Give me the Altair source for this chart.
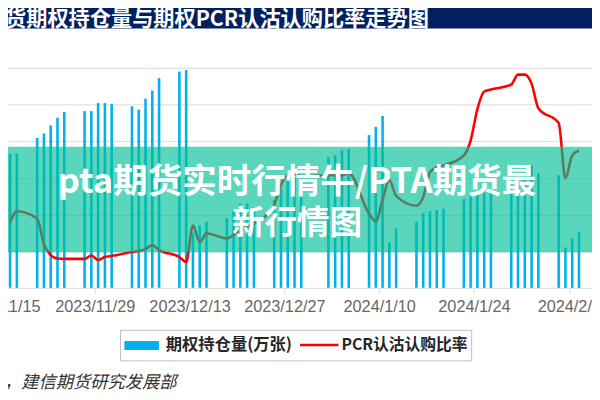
import altair as alt
import pandas as pd

# ---- data ----
dates = [
    "2023-11-16", "2023-11-17", "2023-11-20", "2023-11-21", "2023-11-22", "2023-11-23", "2023-11-24",
    "2023-11-27", "2023-11-28", "2023-11-29", "2023-11-30", "2023-12-01",
    "2023-12-04", "2023-12-05", "2023-12-06", "2023-12-07", "2023-12-08",
    "2023-12-11", "2023-12-12", "2023-12-13", "2023-12-14", "2023-12-15",
    "2023-12-18", "2023-12-19", "2023-12-20", "2023-12-21", "2023-12-22",
    "2023-12-25", "2023-12-26", "2023-12-27", "2023-12-28", "2023-12-29",
    "2024-01-02", "2024-01-03", "2024-01-04", "2024-01-05",
    "2024-01-08", "2024-01-09", "2024-01-10", "2024-01-11", "2024-01-12",
    "2024-01-15", "2024-01-16", "2024-01-17", "2024-01-18", "2024-01-19",
    "2024-01-22", "2024-01-23", "2024-01-24", "2024-01-25", "2024-01-26",
    "2024-01-29", "2024-01-30", "2024-01-31", "2024-02-01", "2024-02-02",
    "2024-02-05", "2024-02-06", "2024-02-07", "2024-02-08",
]
open_interest = [
    36.6, 36.6, 40.9, 42.1, 44.3, 46.4, 48.0,
    48.2, 48.2, 50.4, 50.4, 50.2,
    49.5, 48.6, 51.6, 53.8, 57.2,
    59.0, 59.4, 15.0, 17.0, 18.0,
    19.0, 21.0, 23.0, 23.0, 22.0,
    24.0, 27.0, 29.0, 30.0, 29.0,
    35.6, 36.1, 37.5, 37.9,
    41.7, 43.9, 46.9, 12.4, 16.2,
    18.0, 20.4, 20.9, 21.3, 21.6,
    24.2, 24.9, 25.8, 26.0, 26.0,
    27.0, 28.0, 30.0, 33.4, 31.2,
    30.7, 11.0, 13.5, 15.2,
]
pcr = [
    0.356, 0.418, 0.378, 0.238, 0.179, 0.160, 0.158,
    0.158, 0.176, 0.152, 0.168, 0.174,
    0.195, 0.201, 0.211, 0.233, 0.206,
    0.168, 0.141, 0.340, 0.249, 0.297,
    0.270, 0.287, 0.313, 0.335, 0.351,
    0.453, 0.561, 0.614, 0.620, 0.609,
    0.614, 0.614, 0.614, 0.625,
    0.405, 0.362, 0.480, 0.588, 0.502,
    0.448, 0.496, 0.631, 0.658, 0.668,
    0.722, 0.803, 0.975, 1.071, 1.082,
    1.109, 1.163, 1.163, 1.114, 0.980,
    0.899, 0.598, 0.722, 0.749,
]
tick_dates = [(2023, 11, 15), (2023, 11, 29), (2023, 12, 13), (2023, 12, 27),
              (2024, 1, 10), (2024, 1, 24), (2024, 2, 7)]
oi_grid = [10, 20, 30, 40, 50, 60]

title_text = "货期权持仓量与期权PCR认沽认购比率走势图"
banner_line1 = "pta期货实时行情牛/PTA期货最"
banner_line2 = "新行情图"
legend_bar = "期权持仓量(万张)"
legend_line = "PCR认沽认购比率"
source_text = "，建信期货研究发展部"

df = pd.DataFrame({
    "date": [d + "T12:00:00" for d in dates],
    "oi": open_interest,
    "pcr": pcr,
})

CJK = "Noto Sans CJK SC"

x_enc = alt.X(
    "date:T",
    scale=alt.Scale(
        domain=[alt.DateTime(year=2023, month=11, date=15), alt.DateTime(year=2024, month=2, date=10)],
        range=[-13.2, 594.1],
    ),
    axis=alt.Axis(
        values=[alt.DateTime(year=y, month=m, date=d) for (y, m, d) in tick_dates],
        format="%Y/%-m/%-d", formatType="time", title=None, grid=False,
        labelFont="Liberation Sans", labelFontSize=16.5, labelColor="#666666",
        labelPadding=6, tickSize=5, tickColor="#d9d9d9", domainColor="#d9d9d9",
        labelFlush=False, labelOverlap=False, labelBound=False,
    ),
)

base = alt.Chart(df)

bars = base.mark_bar(size=2.6, color="#00B0F0").encode(
    x=x_enc,
    y=alt.Y("oi:Q", scale=alt.Scale(domain=[0, 60], nice=False),
            axis=alt.Axis(values=oi_grid, grid=True, gridColor="#d9d9d9", gridWidth=1,
                          labels=False, ticks=False, domain=False, title=None)),
)

line = base.mark_line(color="#FF0000", strokeWidth=2.6, interpolate="monotone").encode(
    x=x_enc,
    y=alt.Y("pcr:Q", scale=alt.Scale(domain=[0, 1.2], nice=False), axis=None),
)

one = pd.DataFrame({"k": [0]})


def deco():
    return alt.Chart(one)


overlay = deco().mark_rect(color="#00C096", opacity=0.65).encode(
    x=alt.value(-10), x2=alt.value(600), y=alt.value(80), y2=alt.value(187)
)
banner1 = deco().mark_text(text=banner_line1, font=CJK, fontSize=35, fontWeight="bold",
                           color="white", align="center", baseline="middle").encode(
    x=alt.value(293), y=alt.value(116)
)
banner2 = deco().mark_text(text=banner_line2, font=CJK, fontSize=33, fontWeight="bold",
                           color="white", align="center", baseline="middle").encode(
    x=alt.value(293), y=alt.value(158)
)

title_bar = deco().mark_rect(color="#002060").encode(
    x=alt.value(-10), x2=alt.value(600), y=alt.value(-70), y2=alt.value(-40)
)
title = deco().mark_text(text=title_text, font=CJK, fontSize=21.5, fontWeight="bold",
                         color="white", align="left", baseline="middle").encode(
    x=alt.value(-3), y=alt.value(-48)
)

legend_box = deco().mark_rect(fill="white", stroke="#bfbfbf", strokeWidth=1).encode(
    x=alt.value(114), x2=alt.value(470), y=alt.value(266), y2=alt.value(297)
)
legend_swatch = deco().mark_rect(color="#00B0F0").encode(
    x=alt.value(118), x2=alt.value(153), y=alt.value(277), y2=alt.value(286)
)
legend_t1 = deco().mark_text(text=legend_bar, font=CJK, fontSize=16.5, fontWeight="bold",
                             color="#262626", align="left", baseline="middle").encode(
    x=alt.value(160), y=alt.value(281)
)
legend_rule = deco().mark_rule(color="#FF0000", strokeWidth=2.6).encode(
    x=alt.value(296), x2=alt.value(335), y=alt.value(281)
)
legend_t2 = deco().mark_text(text=legend_line, font=CJK, fontSize=16, fontWeight="bold",
                             color="#262626", align="left", baseline="middle").encode(
    x=alt.value(338), y=alt.value(281)
)
source = deco().mark_text(text=source_text, font=CJK, fontSize=17.5, fontStyle="italic",
                          color="#333333", align="left", baseline="middle").encode(
    x=alt.value(-4), y=alt.value(320)
)

chart = alt.layer(
    bars, line, overlay, banner1, banner2, title_bar, title,
    legend_box, legend_swatch, legend_t1, legend_rule, legend_t2, source,
).resolve_scale(y="independent").properties(
    width=592, height=223,
    padding={"left": 0, "right": 0, "top": 58, "bottom": 111},
    autosize=alt.AutoSizeParams(type="none"),
    background="white",
).configure_view(stroke=None)

chart.save("out.html", embed_options={"renderer": "svg", "actions": False})
